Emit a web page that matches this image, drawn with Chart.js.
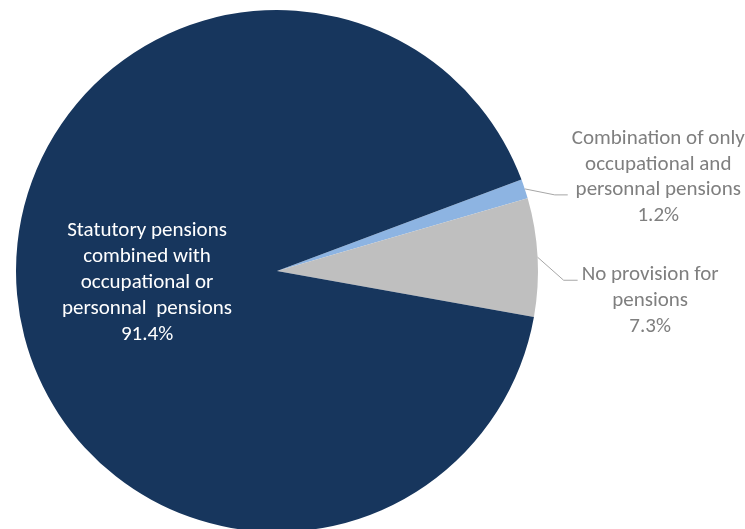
<!DOCTYPE html>
<html>
<head>
<meta charset="utf-8">
<script src="https://cdn.jsdelivr.net/npm/chart.js@4"></script>
<style>
  html, body { margin: 0; padding: 0; background: #fff; }
  #wrap { width: 745px; height: 529px; overflow: hidden; position: relative; }
  #wrap canvas { display: block; }
</style>
</head>
<body>
<div id="wrap"><canvas id="pie" width="745" height="545"></canvas></div>
<script>
const categories = [
  'Combination of only occupational and personnal pensions',
  'No provision for pensions',
  'Statutory pensions combined with occupational or personnal  pensions'
];
const values = [1.2, 7.3, 91.4];
const labelLines = [
  ['Combination of only', 'occupational and', 'personnal pensions', '1.2%'],
  ['No provision for', 'pensions', '7.3%'],
  ['Statutory pensions', 'combined with', 'occupational or', 'personnal  pensions', '91.4%']
];
const colors = ['#8DB4E2', '#BFBFBF', '#17365D'];

// how each label sits: outside with a bent leader, or inside the slice
const labelLayout = [
  { outside: true, elbow: [30, 6], tail: 13, firstBaseline: -51 },
  { outside: true, elbow: [26, 23], tail: 14, firstBaseline: 0 },
  { outside: false, radiusFrac: 0.5 }
];

const FONT = '21px Carlito, Lato, "Liberation Sans", sans-serif';
const LINE_H = 25.8;

const pieLabels = {
  id: 'pieLabels',
  afterDraw(chart) {
    const ctx = chart.ctx;
    const arcs = chart.getDatasetMeta(0).data;
    ctx.save();
    ctx.font = FONT;
    arcs.forEach((arc, i) => {
      const p = arc.getProps(['x', 'y', 'startAngle', 'endAngle', 'outerRadius']);
      const mid = (p.startAngle + p.endAngle) / 2;
      const lines = labelLines[i];
      const lay = labelLayout[i];
      if (lay.outside) {
        const sx = p.x + Math.cos(mid) * p.outerRadius;
        const sy = p.y + Math.sin(mid) * p.outerRadius;
        const ex = sx + lay.elbow[0], ey = sy + lay.elbow[1];
        const tx = ex + lay.tail;
        ctx.strokeStyle = '#A6A6A6';
        ctx.lineWidth = 1;
        ctx.beginPath();
        ctx.moveTo(sx, sy);
        ctx.lineTo(ex, ey);
        ctx.lineTo(tx, ey);
        ctx.stroke();
        const maxW = Math.max(...lines.map(l => ctx.measureText(l).width));
        const cx = tx + 4 + maxW / 2;
        ctx.fillStyle = '#7F7F7F';
        ctx.textAlign = 'center';
        ctx.textBaseline = 'alphabetic';
        lines.forEach((l, k) => ctx.fillText(l, cx, ey + lay.firstBaseline + k * LINE_H));
      } else {
        const cx = p.x + Math.cos(mid) * p.outerRadius * lay.radiusFrac;
        const cy = p.y + Math.sin(mid) * p.outerRadius * lay.radiusFrac;
        ctx.fillStyle = '#FFFFFF';
        ctx.textAlign = 'center';
        ctx.textBaseline = 'middle';
        const top = cy - (lines.length - 1) * LINE_H / 2;
        lines.forEach((l, k) => ctx.fillText(l, cx, top + k * LINE_H));
      }
    });
    ctx.restore();
  }
};

new Chart(document.getElementById('pie'), {
  type: 'pie',
  data: {
    labels: categories,
    datasets: [{
      data: values,
      backgroundColor: colors,
      borderWidth: 0
    }]
  },
  options: {
    responsive: false,
    animation: false,
    rotation: 69.5,
    layout: { padding: { left: 16, right: 207, top: 10, bottom: 13 } },
    plugins: {
      legend: { display: false },
      tooltip: { enabled: false }
    }
  },
  plugins: [pieLabels]
});
</script>
</body>
</html>
